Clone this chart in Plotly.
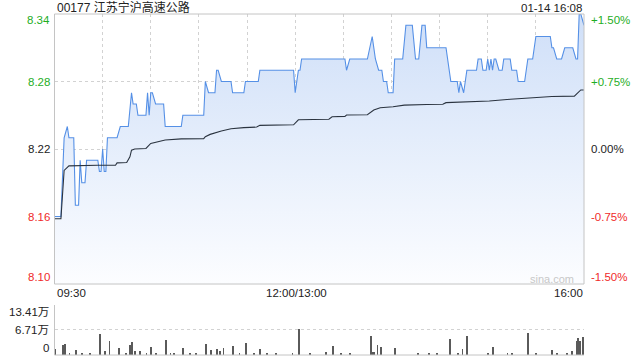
import plotly.graph_objects as go

# ---------------- data ----------------
title_text = "00177 江苏宁沪高速公路"
date_text = "01-14 16:08"
prev_close = 8.22

# price keypoints: minute index since 09:30 (lunch removed), price
price_min = [0, 4, 6, 8, 9, 12, 13, 15, 16, 17, 19, 20, 27, 28, 29, 30, 31, 32, 33,
             39, 41, 46, 48, 49, 51, 52, 57, 58, 59, 60, 61, 63, 68, 69, 79, 80,
             93, 94, 96, 100, 101, 102, 104, 110, 111, 118, 119, 127, 128,
             149, 150, 152, 153, 154, 181, 182, 184, 195, 198, 200, 202, 204, 205,
             207, 208, 211, 212, 217, 219, 223, 225, 227, 229, 231, 232, 244, 247,
             251, 252, 253, 255, 257, 263, 264, 266, 267, 269, 270, 271, 272, 273,
             274, 275, 277, 279, 280, 284, 285, 288, 289, 293, 295, 298, 300, 309,
             310, 311, 313, 316, 318, 323, 325, 326, 327, 328, 330]
price_val = [8.16, 8.16, 8.23, 8.24, 8.23, 8.23, 8.17, 8.17, 8.21, 8.19, 8.19, 8.21, 8.21, 8.20, 8.20, 8.22, 8.20, 8.20, 8.23,
             8.23, 8.24, 8.24, 8.27, 8.26, 8.26, 8.25, 8.25, 8.27, 8.25, 8.27, 8.27, 8.26, 8.26, 8.24, 8.24, 8.25,
             8.25, 8.28, 8.27, 8.27, 8.29, 8.29, 8.28, 8.28, 8.27, 8.27, 8.28, 8.28, 8.29,
             8.29, 8.27, 8.29, 8.29, 8.30, 8.30, 8.29, 8.30, 8.30, 8.32, 8.30, 8.29, 8.29, 8.28,
             8.28, 8.27, 8.27, 8.30, 8.30, 8.33, 8.33, 8.30, 8.30, 8.33, 8.33, 8.31, 8.31, 8.28,
             8.28, 8.27, 8.28, 8.27, 8.29, 8.29, 8.30, 8.30, 8.29, 8.29, 8.30, 8.29, 8.30, 8.29,
             8.30, 8.30, 8.29, 8.29, 8.30, 8.30, 8.29, 8.29, 8.28, 8.28, 8.30, 8.30, 8.32, 8.32,
             8.31, 8.31, 8.30, 8.30, 8.31, 8.31, 8.30, 8.30, 8.34, 8.34, 8.33]

# average price keypoints
avg_min = [0, 4, 6, 9, 27, 38, 39, 45, 47, 48, 50, 57, 60, 69, 79, 93, 94, 97, 104, 110,
           118, 126, 128, 149, 152, 171, 173, 181, 182, 195, 199, 203, 211, 218, 232,
           242, 244, 256, 271, 284, 294, 310, 324, 326, 328, 330]
avg_val = [8.158, 8.158, 8.201, 8.205, 8.2055, 8.2055, 8.2077, 8.208, 8.213, 8.219, 8.220, 8.2205, 8.225,
           8.228, 8.229, 8.2292, 8.231, 8.233, 8.236, 8.238,
           8.239, 8.2395, 8.241, 8.2415, 8.246, 8.2465, 8.2487, 8.249, 8.2502, 8.2505, 8.2546,
           8.2567, 8.2576, 8.259, 8.2595, 8.2598, 8.2612, 8.2618, 8.2627, 8.2642, 8.2651,
           8.2666, 8.267, 8.2695, 8.2725, 8.2725]

# volume (万股) per minute
vol_min = [0, 5, 6, 9, 13, 17, 22, 28, 31, 34, 40, 44, 47, 48, 50, 53, 57, 60, 63, 69, 72, 74,
           80, 84, 88, 94, 97, 101, 103, 105, 111, 115, 119, 124, 128, 132, 138, 148, 152,
           159, 169, 173, 178, 184, 197, 198, 199, 201, 203, 212, 226, 233, 238, 246, 251,
           254, 257, 270, 273, 282, 285, 295, 300, 310, 313, 319, 322, 325, 326, 327, 329, 330]
vol_val = [1.6, 2.7, 2.95, 0.5, 1.34, 0.4, 0.4, 5.6, 1.07, 3.75, 1.9, 0.4, 2.7, 3.5, 1.07, 1.07, 0.4, 2.1, 0.4, 4.0, 0.5, 0.4,
           1.9, 0.4, 0.4, 2.95, 1.34, 1.6, 1.07, 1.9, 2.4, 0.4, 3.2, 0.4, 1.6, 0.3, 0.3, 0.5, 6.9,
           0.3, 0.8, 2.4, 0.3, 0.3, 5.1, 0.8, 0.8, 2.7, 2.1, 1.9, 0.5, 0.4, 0.4, 4.3, 0.4,
           1.6, 5.1, 0.4, 2.1, 0.4, 0.4, 5.9, 0.4, 1.34, 0.5, 0.4, 1.07, 3.75, 4.56, 3.75, 4.8, 13.41]

price_ticks = [8.10, 8.16, 8.22, 8.28, 8.34]
price_labels = ["8.10", "8.16", "8.22", "8.28", "8.34"]
pct_labels = ["-1.50%", "-0.75%", "0.00%", "+0.75%", "+1.50%"]
vol_ticks = [0, 6.71, 13.41]
vol_labels = ["0", "6.71万", "13.41万"]
time_ticks = [0, 150, 330]
time_labels = ["09:30", "12:00/13:00", "16:00"]

# ---------------- layout helpers ----------------
W, H = 640, 360
L, R = 54.5, 584.0
P_TOP, P_BOT = 14.0, 284.0
V_TOP, V_BOT = 305.0, 355.0

def px(x):
    return x / W

def py(y):
    return 1 - y / H

FONT = "Liberation Sans, Arial, Noto Sans CJK SC, sans-serif"
GREEN = "#1fae1f"
RED = "#f02a2a"
BLACK = "#222222"
GRID = "#d2d2d2"
BORDER = "#c4c4c4"

fig = go.Figure()

# baseline for the fill
fig.add_trace(go.Scatter(x=[0, 330], y=[8.10, 8.10], mode="lines",
                         line=dict(width=0, color="rgba(0,0,0,0)"),
                         hoverinfo="skip", showlegend=False, xaxis="x", yaxis="y"))
fig.add_trace(go.Scatter(x=price_min, y=price_val, mode="lines",
                         line=dict(color="#5590e6", width=1.1),
                         fill="tonexty",
                         fillgradient=dict(type="vertical", start=8.10, stop=8.34,
                                           colorscale=[[0, "#fcfdff"], [1, "#cfdff8"]]),
                         showlegend=False, xaxis="x", yaxis="y"))
fig.add_trace(go.Scatter(x=avg_min, y=avg_val, mode="lines",
                         line=dict(color="#2b3440", width=1.1),
                         showlegend=False, xaxis="x", yaxis="y"))
fig.add_trace(go.Bar(x=vol_min, y=vol_val, width=0.55,
                     marker=dict(color="#5a5a5a", line=dict(width=0)),
                     showlegend=False, xaxis="x2", yaxis="y2"))

grid_x = list(range(0, 331, 30))
fig.update_layout(
    width=W, height=H, autosize=False,
    margin=dict(l=0, r=0, t=0, b=0),
    paper_bgcolor="white", plot_bgcolor="white",
    bargap=0,
    xaxis=dict(domain=[px(L), px(R)], range=[0, 330], tickvals=grid_x,
               showticklabels=False, showgrid=True, gridcolor=GRID, griddash="dot",
               gridwidth=1, zeroline=False, showline=False, ticks="", fixedrange=True),
    yaxis=dict(domain=[py(P_BOT), py(P_TOP)], range=[8.10, 8.34],
               tickvals=[8.16, 8.22, 8.28], showticklabels=False, showgrid=True,
               gridcolor=GRID, griddash="dot", zeroline=False, showline=False, ticks=""),
    xaxis2=dict(domain=[px(L), px(R)], range=[0, 330], anchor="y2",
                showticklabels=False, showgrid=False, zeroline=False, showline=False, ticks=""),
    yaxis2=dict(domain=[py(V_BOT), py(V_TOP)], range=[0, 13.41], anchor="x2",
                tickvals=[6.71, 13.41], showticklabels=False, showgrid=True,
                gridcolor=GRID, griddash="dot", zeroline=False, showline=False, ticks=""),
)

shapes = [
    dict(type="rect", xref="paper", yref="paper", x0=px(L), x1=px(R), y0=py(P_BOT), y1=py(P_TOP),
         line=dict(color=BORDER, width=1), fillcolor="rgba(0,0,0,0)", layer="above"),
    dict(type="line", xref="paper", yref="paper", x0=px(L), x1=px(L), y0=py(V_BOT), y1=py(V_TOP),
         line=dict(color=BORDER, width=1)),
    dict(type="line", xref="paper", yref="paper", x0=px(L), x1=px(R), y0=py(V_BOT), y1=py(V_BOT),
         line=dict(color=BORDER, width=1)),
]
fig.update_layout(shapes=shapes)

ann = []
def add_text(x, y, text, color=BLACK, size=11, xanchor="left"):
    ann.append(dict(x=px(x), y=py(y), xref="paper", yref="paper", text=text, showarrow=False,
                    xanchor=xanchor, yanchor="middle",
                    font=dict(family=FONT, size=size, color=color)))

add_text(L, 7.5, title_text, BLACK, 12, "left")
add_text(R, 8, date_text, BLACK, 11.5, "right")

# price / pct labels
label_y = {8.10: 277, 8.16: 217, 8.22: 149, 8.28: 82, 8.34: 20}
for v, t, pt in zip(price_ticks, price_labels, pct_labels):
    if v > prev_close + 1e-9:
        c = GREEN
    elif v < prev_close - 1e-9:
        c = RED
    else:
        c = BLACK
    add_text(51.5, label_y[v], t, c, 11.5, "right")
    add_text(589, label_y[v], pt, c, 11.5, "left")

# time labels
add_text(L, 293, time_labels[0], BLACK, 11.5, "left")
add_text(296, 293, time_labels[1], BLACK, 11.5, "center")
add_text(R + 1, 293, time_labels[2], BLACK, 11.5, "right")

# volume labels
vol_label_y = {0: 348, 6.71: 330, 13.41: 312}
for v, t in zip(vol_ticks, vol_labels):
    add_text(51, vol_label_y[v], t, BLACK, 11.5, "right")

# watermark
add_text(552, 279, "sina.com", "#c8c8c8", 11, "center")

fig.update_layout(annotations=ann)
fig.write_html("out.html")
